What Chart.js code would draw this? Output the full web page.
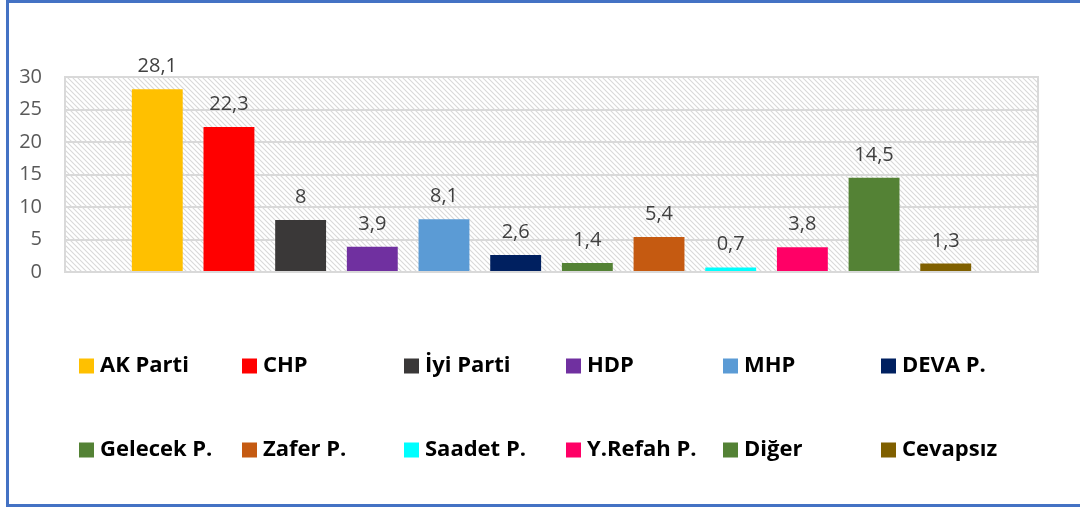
<!DOCTYPE html>
<html>
<head>
<meta charset="utf-8">
<script src="https://cdn.jsdelivr.net/npm/chart.js@4"></script>
<style>
  html, body { margin: 0; padding: 0; background: #fff; }
  #wrap { width: 1080px; height: 509px; position: relative; }
</style>
</head>
<body>
<div id="wrap"><canvas id="barGraph" width="1080" height="509"></canvas></div>
<script>
  const parties = ['AK Parti', 'CHP', 'İyi Parti', 'HDP', 'MHP', 'DEVA P.',
    'Gelecek P.', 'Zafer P.', 'Saadet P.', 'Y.Refah P.', 'Diğer', 'Cevapsız'];
  const values = [28.1, 22.3, 8, 3.9, 8.1, 2.6, 1.4, 5.4, 0.7, 3.8, 14.5, 1.3];
  const colors = ['#FFC000', '#FF0000', '#3A3838', '#7030A0', '#5B9BD5', '#002060',
    '#548235', '#C55A11', '#00FFFF', '#FF0066', '#548235', '#806000'];
  const yTicks = [0, 5, 10, 15, 20, 25, 30];

  // striped plot background like the excel one
  function makeHatch() {
    const c = document.createElement('canvas');
    c.width = 5; c.height = 5;
    const g = c.getContext('2d');
    g.strokeStyle = '#d9d9d9';
    g.lineWidth = 1.1;
    g.beginPath();
    g.moveTo(-1, -1); g.lineTo(6, 6);
    g.moveTo(-1, 4); g.lineTo(1, 6);
    g.moveTo(4, -1); g.lineTo(6, 1);
    g.stroke();
    return g.createPattern(c, 'repeat');
  }

  const plotBack = {
    id: 'plotBack',
    beforeDraw(chart) {
      const { ctx, chartArea: a } = chart;
      ctx.save();
      ctx.fillStyle = makeHatch();
      ctx.fillRect(a.left, a.top, a.right - a.left, a.bottom - a.top);
      ctx.restore();
    },
    beforeDatasetsDraw(chart) {
      const { ctx, chartArea: a } = chart;
      ctx.save();
      ctx.strokeStyle = '#d9d9d9';
      ctx.lineWidth = 2;
      ctx.strokeRect(a.left, a.top, a.right - a.left, a.bottom - a.top);
      ctx.restore();
    }
  };

  const valueLabels = {
    id: 'valueLabels',
    afterDatasetsDraw(chart) {
      const ctx = chart.ctx;
      ctx.save();
      ctx.font = '20px "Open Sans"';
      ctx.fillStyle = '#404040';
      ctx.textAlign = 'center';
      ctx.textBaseline = 'alphabetic';
      chart.data.datasets.forEach((ds, i) => {
        const bar = chart.getDatasetMeta(i).data[0];
        ctx.fillText(String(ds.data[0]).replace('.', ','), bar.x, bar.y - 17);
      });
      ctx.restore();
    }
  };

  const gridLegend = {
    id: 'gridLegend',
    afterDraw(chart) {
      const ctx = chart.ctx;
      const cols = [79, 242, 404, 566, 723, 881];
      const rows = [366, 450];
      ctx.save();
      ctx.font = 'bold 22px "Open Sans"';
      ctx.textBaseline = 'middle';
      ctx.textAlign = 'left';
      parties.forEach((p, i) => {
        const x = cols[i % 6], y = rows[Math.floor(i / 6)];
        ctx.fillStyle = colors[i];
        ctx.fillRect(x, y - 7.5, 15, 15);
        ctx.fillStyle = '#000';
        ctx.fillText(p, x + 21, y);
      });
      // blue frame
      ctx.strokeStyle = '#4472C4';
      ctx.lineWidth = 3;
      ctx.beginPath();
      ctx.moveTo(1080, 1.5);
      ctx.lineTo(7.5, 1.5);
      ctx.lineTo(7.5, 505.5);
      ctx.lineTo(1080, 505.5);
      ctx.stroke();
      ctx.restore();
    }
  };

  const ctx = document.getElementById('barGraph');

  new Chart(ctx, {
    type: 'bar',
    data: {
      labels: [''],
      datasets: parties.map((p, i) => ({
        label: p,
        data: [values[i]],
        backgroundColor: colors[i]
      }))
    },
    options: {
      responsive: false,
      animation: false,
      layout: {
        padding: { top: 77, right: 42, bottom: 237, left: 0 }
      },
      datasets: {
        bar: { categoryPercentage: 0.884, barPercentage: 0.71 }
      },
      scales: {
        x: { display: false },
        y: {
          min: 0,
          max: 30,
          afterFit(scale) { scale.width = 65; },
          afterBuildTicks(scale) { scale.ticks = yTicks.map(v => ({ value: v })); },
          grid: { color: '#d9d9d9', lineWidth: 2, drawTicks: false },
          border: { display: false },
          ticks: {
            padding: 23,
            color: '#595959',
            font: { family: 'Open Sans', size: 20 }
          }
        }
      },
      plugins: {
        legend: { display: false },
        tooltip: { enabled: false }
      }
    },
    plugins: [plotBack, valueLabels, gridLegend]
  });
</script>
</body>
</html>
